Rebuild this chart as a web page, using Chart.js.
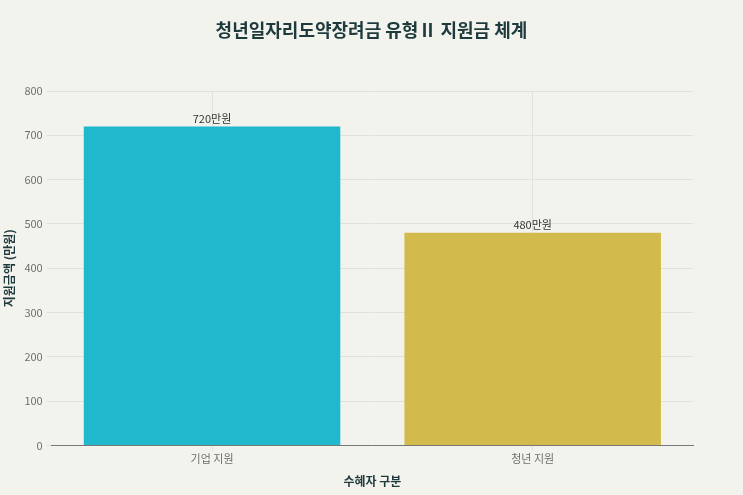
<!DOCTYPE html>
<html>
<head>
<meta charset="utf-8">
<script src="https://cdn.jsdelivr.net/npm/chart.js@4"></script>
<style>
  html, body { margin: 0; padding: 0; background: #f3f3ee; }
  #wrap { width: 743px; height: 495px; }
</style>
</head>
<body>
<div id="wrap"><canvas id="chart" width="743" height="495"></canvas></div>
<script>
// chart data
const categories = ["기업 지원", "청년 지원"];
const amounts = [720, 480];
const valueLabels = ["720만원", "480만원"];
const barColors = ["#1fb8cd", "#d2ba4c"];
const chartTitle = "청년일자리도약장려금 유형Ⅱ 지원금 체계";

const fontFamily = "'Noto Sans CJK KR', 'Noto Sans', sans-serif";

// draws the value text above each bar
const barLabels = {
  id: "barLabels",
  afterDatasetsDraw(chart) {
    const ctx = chart.ctx;
    const meta = chart.getDatasetMeta(0);
    ctx.save();
    ctx.font = "11px " + fontFamily;
    ctx.fillStyle = "#333333";
    ctx.textAlign = "center";
    ctx.textBaseline = "bottom";
    meta.data.forEach((bar, i) => {
      ctx.fillText(valueLabels[i], bar.x, bar.y - 2);
    });
    ctx.restore();
  }
};

// background + title centred on the whole canvas
const bg = {
  id: "bg",
  beforeDraw(chart) {
    const ctx = chart.ctx;
    ctx.save();
    ctx.fillStyle = "#f3f3ee";
    ctx.fillRect(0, 0, chart.width, chart.height);
    ctx.font = "bold 18px " + fontFamily;
    ctx.fillStyle = "#1f3a3d";
    ctx.textAlign = "center";
    ctx.textBaseline = "middle";
    ctx.fillText(chartTitle, chart.width / 2, 30);
    ctx.restore();
  }
};

new Chart(document.getElementById("chart").getContext("2d"), {
  type: "bar",
  data: {
    labels: categories,
    datasets: [{
      data: amounts,
      backgroundColor: barColors,
      borderWidth: 0,
      barPercentage: 0.8,
      categoryPercentage: 1.0
    }]
  },
  options: {
    responsive: false,
    animation: false,
    layout: { padding: { top: 91, right: 50, bottom: 6, left: 2 } },
    plugins: {
      legend: { display: false },
      tooltip: { enabled: false },
      title: { display: false }
    },
    scales: {
      x: {
        grid: {
          offset: false,
          color: "#e2e2dd",
          tickLength: 5
        },
        border: { color: "#777777", width: 1 },
        ticks: {
          color: "#6e6e6e",
          font: { family: fontFamily, size: 11 },
          padding: 2
        },
        title: {
          display: true,
          text: "수혜자 구분",
          color: "#1f3a3d",
          font: { family: fontFamily, size: 12, weight: "bold" },
          padding: { top: 7, bottom: 0 }
        }
      },
      y: {
        min: 0,
        max: 800,
        ticks: {
          stepSize: 100,
          color: "#6e6e6e",
          font: { family: fontFamily, size: 11 },
          padding: 4
        },
        grid: {
          color: "#e2e2dd",
          tickLength: 5
        },
        border: { display: false },
        title: {
          display: true,
          text: "지원금액 (만원)",
          color: "#1f3a3d",
          font: { family: fontFamily, size: 12, weight: "bold" },
          padding: { top: 0, bottom: 4 }
        }
      }
    }
  },
  plugins: [bg, barLabels]
});
</script>
</body>
</html>
